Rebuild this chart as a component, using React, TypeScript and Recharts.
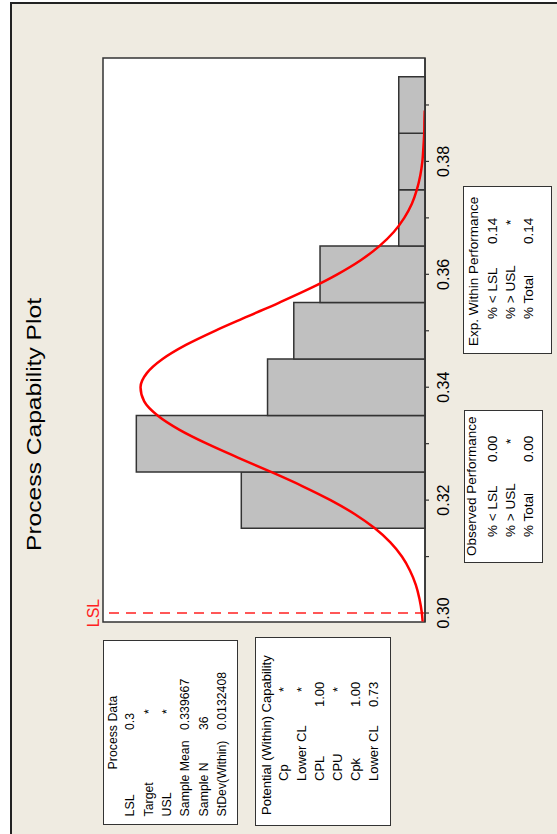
import React from 'react';
import { ComposedChart, XAxis, YAxis, Line, ReferenceArea, ReferenceLine } from 'recharts';

// histogram bins (centre of each 0.01 bin) and counts
const binCenters = [0.32, 0.33, 0.34, 0.35, 0.36, 0.37, 0.38, 0.39];
const binCounts = [7, 11, 6, 5, 4, 1, 1, 1];
const BIN_WIDTH = 0.01;

// fitted normal curve (in count units)
const curveX = [
    0.2985, 0.3, 0.3025, 0.305, 0.3075, 0.31, 0.3125, 0.315, 0.3175, 0.32, 0.3225, 0.325, 0.3275,
    0.33, 0.3325, 0.335, 0.3375, 0.34, 0.3425, 0.345, 0.3475, 0.35, 0.3525, 0.355, 0.3575, 0.36,
    0.3625, 0.365, 0.3675, 0.37, 0.3725, 0.375, 0.3775, 0.38, 0.3825, 0.385, 0.3875, 0.389,
];
const curveY = [
    0.09, 0.12, 0.21, 0.35, 0.57, 0.88, 1.32, 1.91, 2.67, 3.6, 4.68, 5.87, 7.11,
    8.31, 9.37, 10.19, 10.7, 10.84, 10.6, 10.0, 9.11, 8.0, 6.78, 5.55, 4.38, 3.34,
    2.45, 1.74, 1.19, 0.79, 0.5, 0.31, 0.18, 0.1, 0.06, 0.03, 0.02, 0.01,
];

const xTicks = [0.3, 0.31, 0.32, 0.33, 0.34, 0.35, 0.36, 0.37, 0.38, 0.39];
const xTickLabels = [0.3, 0.32, 0.34, 0.36, 0.38];
const X_DOMAIN: [number, number] = [0.29841, 0.39832];
const Y_DOMAIN: [number, number] = [0, 12.27];
const LSL = 0.3;

const processLabels = ['LSL', 'Target', 'USL', 'Sample Mean', 'Sample N', 'StDev(Within)'];
const processValues = ['0.3', '*', '*', '0.339667', '36', '0.0132408'];
const potentialLabels = ['Cp', 'Lower CL', 'CPL', 'CPU', 'Cpk', 'Lower CL'];
const potentialValues = ['*', '*', '1.00', '*', '1.00', '0.73'];
const observedLabels = ['% < LSL', '% > USL', '% Total'];
const observedValues = ['0.00', '*', '0.00'];
const expectedLabels = ['% < LSL', '% > USL', '% Total'];
const expectedValues = ['0.14', '*', '0.14'];

const FONT = '"Liberation Sans", Arial, sans-serif';

const curveData = curveX.map((x, i) => ({ x, y: curveY[i] }));

type BoxProps = {
    left: number; top: number; width: number; height: number;
    title: string; titleLeft?: number; titleV: number;
    labels: string[]; values: string[];
    rowStart: number; rowStep: number;
    labelX: number; valueX: number; starX: number;
    fontSize?: number;
};

const InfoBox: React.FC<BoxProps> = (p) => {
    const rowTop = (v: number) => v - p.top - 9 - 1.5;
    return (
        <div style={{
            position: 'absolute', left: p.left, top: p.top, width: p.width, height: p.height,
            boxSizing: 'border-box', border: '1.5px solid #333', background: '#fff',
            fontFamily: FONT, fontSize: p.fontSize ?? 13.5, lineHeight: '18px', color: '#000', whiteSpace: 'nowrap',
        }}>
            <div style={{
                position: 'absolute', top: rowTop(p.titleV),
                left: p.titleLeft === undefined ? 0 : p.titleLeft,
                width: p.titleLeft === undefined ? '100%' : undefined,
                textAlign: p.titleLeft === undefined ? 'center' : 'left',
            }}>{p.title}</div>
            {p.labels.map((lab, i) => {
                const v = p.rowStart + i * p.rowStep;
                const val = p.values[i];
                return (
                    <React.Fragment key={i}>
                        <div style={{ position: 'absolute', top: rowTop(v), left: p.labelX }}>{lab}</div>
                        <div style={{ position: 'absolute', top: rowTop(v), left: val === '*' ? p.starX : p.valueX }}>{val}</div>
                    </React.Fragment>
                );
            })}
        </div>
    );
};

const CapabilityChart: React.FC = () => (
    <ComposedChart width={834} height={557} data={curveData}
        margin={{ top: 103, right: 58, left: 212, bottom: 102 }}>
        <XAxis dataKey="x" type="number" domain={X_DOMAIN} allowDataOverflow ticks={xTicks} interval={0}
            height={30} tickSize={4} tickMargin={9}
            tickFormatter={(v: number) => (xTickLabels.includes(v) ? v.toFixed(2) : '')}
            tick={{ fontSize: 16, fill: '#000', fontFamily: FONT }}
            axisLine={{ stroke: '#333', strokeWidth: 1.5 }} tickLine={{ stroke: '#333', strokeWidth: 1.2 }} />
        <YAxis hide type="number" domain={Y_DOMAIN} allowDataOverflow width={0} />
        <ReferenceArea x1={X_DOMAIN[0]} x2={X_DOMAIN[1]} y1={Y_DOMAIN[0]} y2={Y_DOMAIN[1]}
            fill="#ffffff" fillOpacity={1} stroke="#333" strokeWidth={1.5} />
        {binCenters.map((c, i) => (
            <ReferenceArea key={c} x1={c - BIN_WIDTH / 2} x2={c + BIN_WIDTH / 2} y1={0} y2={binCounts[i]}
                fill="#C0C0C0" fillOpacity={1} stroke="#333" strokeWidth={1.5} />
        ))}
        <ReferenceLine x={LSL} stroke="#FF2020" strokeWidth={1.5} strokeDasharray="10 7"
            label={{ value: 'LSL', position: 'top', fill: '#FF2020', fontSize: 16, fontFamily: FONT, offset: 4 }} />
        <Line dataKey="y" type="monotone" stroke="#FF0000" strokeWidth={2.5} dot={false} isAnimationActive={false} />
    </ComposedChart>
);

const App: React.FC = () => (
    <div style={{ position: 'absolute', left: 0, top: 0, width: 557, height: 834, overflow: 'hidden', background: '#fff' }}>
        <div style={{
            position: 'absolute', left: 0, top: 0, width: 834, height: 557,
            transform: 'translate(0px, 834px) rotate(-90deg)', transformOrigin: '0 0',
        }}>
            <div style={{
                position: 'absolute', left: -4, top: 10, width: 836, height: 560, boxSizing: 'border-box',
                background: '#EFEBE1', borderTop: '2px solid #222', borderRight: '2px solid #222',
            }} />
            <svg width={834} height={60} style={{ position: 'absolute', left: 0, top: 0 }}>
                <text x={409.5} y={41} textAnchor="middle" fontSize={20} fontFamily={FONT} fill="#000"
                    textLength={253} lengthAdjust="spacingAndGlyphs">Process Capability Plot</text>
            </svg>
            <div style={{ position: 'absolute', left: 0, top: 0 }}>
                <CapabilityChart />
            </div>
            <InfoBox left={9} top={103} width={185} height={135} title="Process Data" titleV={113.6}
                labels={processLabels} values={processValues} rowStart={130.6} rowStep={18.4}
                labelX={7.6} valueX={94} starX={110} fontSize={12.3} />
            <InfoBox left={8} top={255} width={189} height={136} title="Potential (Within) Capability"
                titleLeft={10} titleV={267} labels={potentialLabels} values={potentialValues}
                rowStart={284} rowStep={18.1} labelX={44} valueX={118} starX={133} fontSize={13} />
            <InfoBox left={271} top={464} width={153} height={79} title="Observed Performance"
                titleLeft={6} titleV={472} labels={observedLabels} values={observedValues}
                rowStart={493.4} rowStep={17.8} labelX={25} valueX={100} starX={118} />
            <InfoBox left={480} top={463} width={168} height={89} title="Exp. Within Performance"
                titleLeft={7} titleV={474} labels={expectedLabels} values={expectedValues}
                rowStart={493} rowStep={18} labelX={34} valueX={109} starX={128} />
        </div>
    </div>
);

export default App;
